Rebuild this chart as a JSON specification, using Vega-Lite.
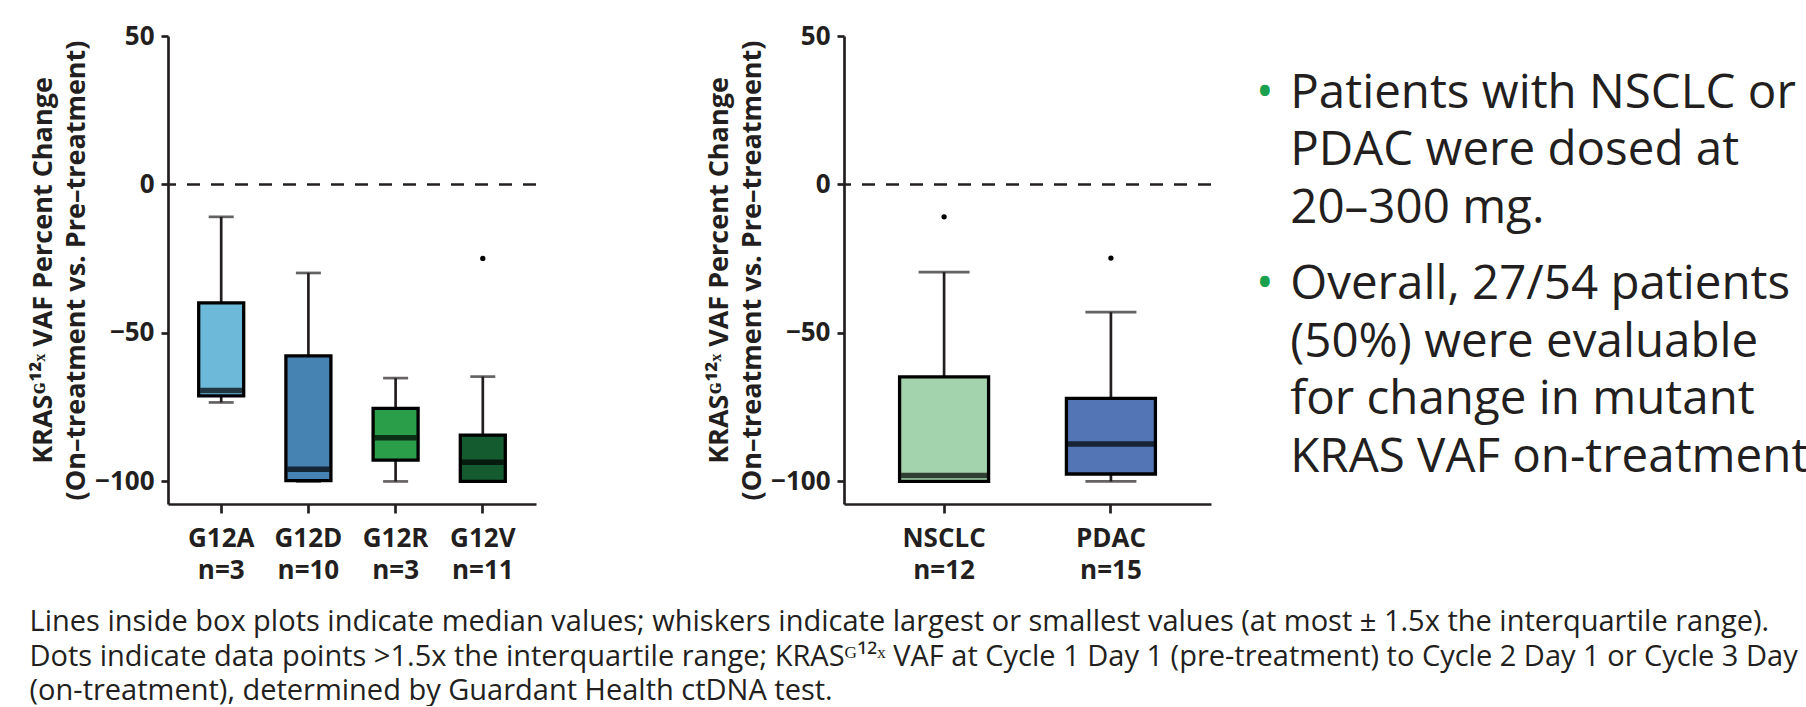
{
  "$schema": "https://vega.github.io/schema/vega-lite/v6.json",
  "background": "white",
  "padding": {"left": 29, "top": 23, "right": 0, "bottom": 0},
  "config": {
    "view": {"stroke": null},
    "font": "Open Sans",
    "axis": {
      "grid": false,
      "domainColor": "#231F20",
      "domainWidth": 2.7,
      "tickColor": "#231F20",
      "tickWidth": 2.7,
      "labelFont": "Open Sans",
      "labelFontWeight": "bold",
      "labelFontSize": 26,
      "labelColor": "#231F20",
      "titleFont": "Open Sans",
      "titleFontWeight": "bold",
      "titleFontSize": 27,
      "titleColor": "#231F20",
      "titleLineHeight": 33
    },
    "axisY": {"tickSize": 7, "labelPadding": 7, "titlePadding": 4},
    "axisX": {"tickSize": 9, "labelPadding": 12, "labelLineHeight": 32, "labelAngle": 0, "labelExpr": "split(datum.label, ' ')"}
  },
  "title": {
    "text": [
      "Lines inside box plots indicate median values; whiskers indicate largest or smallest values (at most ± 1.5x the interquartile range).",
      "Dots indicate data points >1.5x the interquartile range; KRASᴳ¹²ˣ VAF at Cycle 1 Day 1 (pre-treatment) to Cycle 2 Day 1 or Cycle 3 Day",
      "(on-treatment), determined by Guardant Health ctDNA test."
    ],
    "orient": "bottom",
    "anchor": "start",
    "frame": "bounds",
    "font": "Open Sans",
    "fontSize": 29,
    "fontWeight": "normal",
    "lineHeight": 34.5,
    "color": "#231F20",
    "offset": 25
  },
  "spacing": 10,
  "hconcat": [
    {
      "bounds": "flush",
      "spacing": 308,
      "resolve": {"scale": {"x": "independent", "y": "independent", "color": "independent"}},
      "hconcat": [
        {
          "width": 368,
          "height": 468,
          "data": {"values": [
            {"label": "G12A n=3", "lower": -73.4, "q1": -71.2, "median": -69.4, "q3": -39.9, "upper": -10.9},
            {"label": "G12D n=10", "lower": -100, "q1": -99.7, "median": -95.9, "q3": -57.7, "upper": -29.8},
            {"label": "G12R n=3", "lower": -100, "q1": -92.8, "median": -85.3, "q3": -75.4, "upper": -65.2},
            {"label": "G12V n=11", "lower": -100, "q1": -100, "median": -93.5, "q3": -84.4, "upper": -64.7}
          ]},
          "layer": [
            {
              "data": {"values": [{"ref": 0}]},
              "mark": {"type": "rule", "strokeDash": [13, 11], "strokeWidth": 2.5, "color": "#231F20"},
              "encoding": {"y": {"field": "ref", "type": "quantitative", "scale": {"domain": [-107.6, 50], "nice": false, "zero": false}, "axis": {"values": [-100, -50, 0, 50], "title": ["KRASᴳ¹²ˣ VAF Percent Change", "(On–treatment vs. Pre–treatment)"]}}}
            },
            {
              "mark": {"type": "rule", "strokeWidth": 2.7, "color": "#231F20"},
              "encoding": {
                "x": {"field": "label", "type": "nominal", "sort": null, "scale": {"domain": ["G12A n=3", "G12D n=10", "G12R n=3", "G12V n=11"], "paddingInner": 0.5, "paddingOuter": 0.36}, "axis": {"title": null}},
                "y": {"field": "lower", "type": "quantitative", "axis": {"values": [-100, -50, 0, 50], "title": ["KRASᴳ¹²ˣ VAF Percent Change", "(On–treatment vs. Pre–treatment)"]}},
                "y2": {"field": "upper"}
              }
            },
            {
              "mark": {"type": "tick", "size": 25, "thickness": 2.7, "color": "#231F20"},
              "encoding": {
                "x": {"field": "label", "type": "nominal", "sort": null, "axis": {"title": null}},
                "y": {"field": "upper", "type": "quantitative", "axis": {"values": [-100, -50, 0, 50], "title": ["KRASᴳ¹²ˣ VAF Percent Change", "(On–treatment vs. Pre–treatment)"]}}
              }
            },
            {
              "mark": {"type": "tick", "size": 25, "thickness": 2.7, "color": "#231F20"},
              "encoding": {
                "x": {"field": "label", "type": "nominal", "sort": null, "axis": {"title": null}},
                "y": {"field": "lower", "type": "quantitative", "axis": {"values": [-100, -50, 0, 50], "title": ["KRASᴳ¹²ˣ VAF Percent Change", "(On–treatment vs. Pre–treatment)"]}}
              }
            },
            {
              "mark": {"type": "bar", "size": 45, "stroke": "#000000", "strokeWidth": 3.3},
              "encoding": {
                "x": {"field": "label", "type": "nominal", "sort": null, "axis": {"title": null}},
                "y": {"field": "q1", "type": "quantitative", "axis": {"values": [-100, -50, 0, 50], "title": ["KRASᴳ¹²ˣ VAF Percent Change", "(On–treatment vs. Pre–treatment)"]}},
                "y2": {"field": "q3"},
                "color": {"field": "label", "type": "nominal", "legend": null, "scale": {"domain": ["G12A n=3", "G12D n=10", "G12R n=3", "G12V n=11"], "range": ["#6CB9DA", "#4683B3", "#2A9E48", "#155B30"]}}
              }
            },
            {
              "mark": {"type": "tick", "size": 42, "thickness": 5.5, "color": "#000000"},
              "encoding": {
                "x": {"field": "label", "type": "nominal", "sort": null, "axis": {"title": null}},
                "y": {"field": "median", "type": "quantitative", "axis": {"values": [-100, -50, 0, 50], "title": ["KRASᴳ¹²ˣ VAF Percent Change", "(On–treatment vs. Pre–treatment)"]}}
              }
            },
            {
              "data": {"values": [{"label": "G12V n=11", "value": -24.9}]},
              "mark": {"type": "point", "filled": true, "size": 28, "color": "#000000", "opacity": 1},
              "encoding": {
                "x": {"field": "label", "type": "nominal", "sort": null, "axis": {"title": null}},
                "y": {"field": "value", "type": "quantitative", "axis": {"values": [-100, -50, 0, 50], "title": ["KRASᴳ¹²ˣ VAF Percent Change", "(On–treatment vs. Pre–treatment)"]}}
              }
            }
          ]
        },
        {
          "width": 367,
          "height": 468,
          "data": {"values": [
            {"label": "NSCLC n=12", "lower": -100, "q1": -100, "median": -98.0, "q3": -64.8, "upper": -29.5},
            {"label": "PDAC n=15", "lower": -100, "q1": -97.5, "median": -87.4, "q3": -72.0, "upper": -43.0}
          ]},
          "layer": [
            {
              "data": {"values": [{"ref": 0}]},
              "mark": {"type": "rule", "strokeDash": [13, 11], "strokeWidth": 2.5, "color": "#231F20"},
              "encoding": {"y": {"field": "ref", "type": "quantitative", "scale": {"domain": [-107.6, 50], "nice": false, "zero": false}, "axis": {"values": [-100, -50, 0, 50], "title": ["KRASᴳ¹²ˣ VAF Percent Change", "(On–treatment vs. Pre–treatment)"]}}}
            },
            {
              "mark": {"type": "rule", "strokeWidth": 2.7, "color": "#231F20"},
              "encoding": {
                "x": {"field": "label", "type": "nominal", "sort": null, "scale": {"domain": ["NSCLC n=12", "PDAC n=15"], "paddingInner": 0.5, "paddingOuter": 0.35}, "axis": {"title": null}},
                "y": {"field": "lower", "type": "quantitative", "axis": {"values": [-100, -50, 0, 50], "title": ["KRASᴳ¹²ˣ VAF Percent Change", "(On–treatment vs. Pre–treatment)"]}},
                "y2": {"field": "upper"}
              }
            },
            {
              "mark": {"type": "tick", "size": 51, "thickness": 2.7, "color": "#231F20"},
              "encoding": {
                "x": {"field": "label", "type": "nominal", "sort": null, "axis": {"title": null}},
                "y": {"field": "upper", "type": "quantitative", "axis": {"values": [-100, -50, 0, 50], "title": ["KRASᴳ¹²ˣ VAF Percent Change", "(On–treatment vs. Pre–treatment)"]}}
              }
            },
            {
              "mark": {"type": "tick", "size": 51, "thickness": 2.7, "color": "#231F20"},
              "encoding": {
                "x": {"field": "label", "type": "nominal", "sort": null, "axis": {"title": null}},
                "y": {"field": "lower", "type": "quantitative", "axis": {"values": [-100, -50, 0, 50], "title": ["KRASᴳ¹²ˣ VAF Percent Change", "(On–treatment vs. Pre–treatment)"]}}
              }
            },
            {
              "mark": {"type": "bar", "size": 89, "stroke": "#000000", "strokeWidth": 3.3},
              "encoding": {
                "x": {"field": "label", "type": "nominal", "sort": null, "axis": {"title": null}},
                "y": {"field": "q1", "type": "quantitative", "axis": {"values": [-100, -50, 0, 50], "title": ["KRASᴳ¹²ˣ VAF Percent Change", "(On–treatment vs. Pre–treatment)"]}},
                "y2": {"field": "q3"},
                "color": {"field": "label", "type": "nominal", "legend": null, "scale": {"domain": ["NSCLC n=12", "PDAC n=15"], "range": ["#A2D3AD", "#5375B5"]}}
              }
            },
            {
              "mark": {"type": "tick", "size": 86, "thickness": 5.5, "color": "#000000"},
              "encoding": {
                "x": {"field": "label", "type": "nominal", "sort": null, "axis": {"title": null}},
                "y": {"field": "median", "type": "quantitative", "axis": {"values": [-100, -50, 0, 50], "title": ["KRASᴳ¹²ˣ VAF Percent Change", "(On–treatment vs. Pre–treatment)"]}}
              }
            },
            {
              "data": {"values": [{"label": "NSCLC n=12", "value": -10.9}, {"label": "PDAC n=15", "value": -24.8}]},
              "mark": {"type": "point", "filled": true, "size": 28, "color": "#000000", "opacity": 1},
              "encoding": {
                "x": {"field": "label", "type": "nominal", "sort": null, "axis": {"title": null}},
                "y": {"field": "value", "type": "quantitative", "axis": {"values": [-100, -50, 0, 50], "title": ["KRASᴳ¹²ˣ VAF Percent Change", "(On–treatment vs. Pre–treatment)"]}}
              }
            }
          ]
        }
      ]
    },
    {
      "width": 500,
      "height": 468,
      "data": {"values": [
        {"para": 1, "text": "Patients with NSCLC or\nPDAC were dosed at\n20–300 mg."},
        {"para": 2, "text": "Overall, 27/54 patients\n(50%) were evaluable\nfor change in mutant\nKRAS VAF on-treatment"}
      ]},
      "layer": [
        {
          "mark": {"type": "text", "text": "•", "align": "center", "baseline": "alphabetic", "fontSize": 47, "font": "Open Sans", "color": "#1BA14E"},
          "encoding": {
            "x": {"datum": "bullet", "type": "nominal", "scale": {"type": "point", "domain": ["bullet", "text"], "range": [29, 80]}, "axis": null},
            "y": {"field": "para", "type": "quantitative", "scale": {"domain": [1, 2], "range": [71.7, 263], "nice": false, "zero": false}, "axis": null}
          }
        },
        {
          "mark": {"type": "text", "align": "left", "baseline": "alphabetic", "fontSize": 47.5, "font": "Open Sans", "lineBreak": "\n", "lineHeight": 57.5, "color": "#231F20"},
          "encoding": {
            "x": {"datum": "text", "type": "nominal", "axis": null},
            "y": {"field": "para", "type": "quantitative", "axis": null},
            "text": {"field": "text"}
          }
        }
      ]
    }
  ]
}
